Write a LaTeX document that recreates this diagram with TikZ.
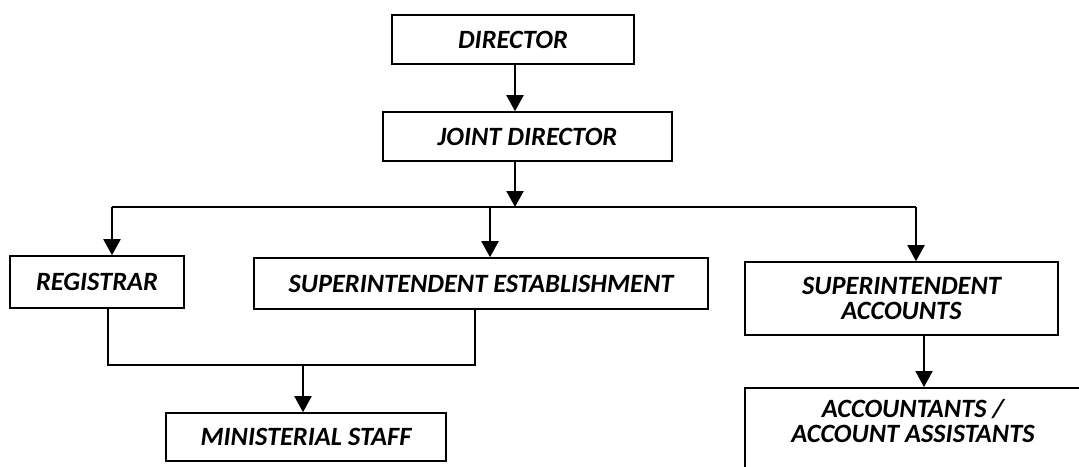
\documentclass[tikz,border=0pt]{standalone}
\usepackage{fontspec}
\setmainfont{Carlito}
\usetikzlibrary{arrows.meta}
\begin{document}
\begin{tikzpicture}[x=0.5pt,y=-0.5pt,
  box/.style={draw, line width=0.8pt, inner sep=0pt, align=center,
    font=\fontsize{13.2}{12.5}\selectfont\bfseries\itshape},
  txt/.style={inner sep=0pt, align=center,
    font=\fontsize{13.2}{12.5}\selectfont\bfseries\itshape},
  arr/.style={line width=1pt, -{Triangle[width=8.5pt,length=8pt]}},
  ln/.style={line width=1pt}]
\useasboundingbox (0,0) rectangle (1079,466);
\node[box, minimum width=121pt, minimum height=24.5pt] (D) at (513,39.5) {DIRECTOR};
\node[box, minimum width=144.5pt, minimum height=24.5pt] (JD) at (527.5,136.5) {JOINT DIRECTOR};
\node[box, minimum width=87pt, minimum height=26pt] (REG) at (97,282) {REGISTRAR};
\node[box, minimum width=227pt, minimum height=25.5pt] (SE) at (481,283.5) {SUPERINTENDENT ESTABLISHMENT};
\node[box, minimum width=156.5pt, minimum height=36.5pt] (SA) at (901.5,298.5) {SUPERINTENDENT\\ACCOUNTS};
\node[box, minimum width=140pt, minimum height=24pt] (MS) at (306,437) {MINISTERIAL STAFF};
\node[draw, line width=0.8pt, inner sep=0pt, minimum width=168pt, minimum height=55pt, anchor=north] (AA) at (913,387) {};
\node[txt] (AAt) at (913,421) {ACCOUNTANTS /\\ACCOUNT ASSISTANTS};
% helper coordinates
\coordinate (c1) at (515,207);
\coordinate (hl) at (112,207);
\coordinate (hr) at (916,207);
\coordinate (cse) at (490,207);
\coordinate (b1) at (108,365);
\coordinate (b2) at (475,365);
\coordinate (bm) at (303,365);
\coordinate (csa) at (924,0);
\draw[arr] (c1 |- D.south) -- (c1 |- JD.north);
\draw[arr] (c1 |- JD.south) -- (c1);
\draw[ln] (hl) -- (hr);
\draw[arr] (hl) -- (hl |- REG.north);
\draw[arr] (cse) -- (cse |- SE.north);
\draw[arr] (hr) -- (hr |- SA.north);
\draw[ln] (b1 |- REG.south) -- (b1) -- (b2) -- (b2 |- SE.south);
\draw[arr] (bm) -- (bm |- MS.north);
\draw[arr] (csa |- SA.south) -- (csa |- AA.north);
\end{tikzpicture}
\end{document}
